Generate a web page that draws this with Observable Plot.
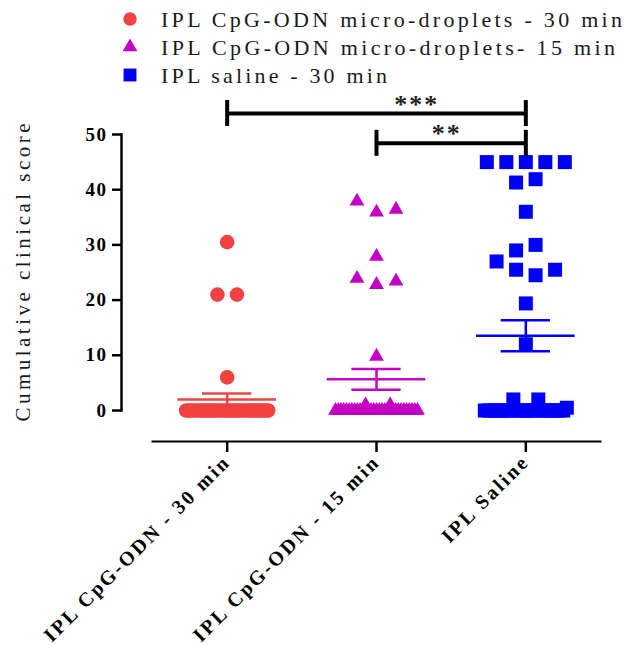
<!DOCTYPE html>
<html>
<head>
<meta charset="utf-8">
<script src="https://cdn.jsdelivr.net/npm/d3@7"></script>
<script src="https://cdn.jsdelivr.net/npm/@observablehq/plot@0.6"></script>
<style>
  body { margin: 0; background: #fff; }
  #chart { width: 632px; height: 645px; overflow: hidden; font-family: "Liberation Serif", serif; }
  #chart svg { display: block; }
</style>
</head>
<body>
<div id="chart"></div>
<script>
// ---------------- data ----------------
const categories = ["IPL CpG-ODN - 30 min", "IPL CpG-ODN - 15 min", "IPL Saline"];
const seriesNames = [
  "IPL CpG-ODN micro-droplets - 30 min",
  "IPL CpG-ODN micro-droplets- 15 min",
  "IPL saline - 30 min"
];
const yTicks = [0, 10, 20, 30, 40, 50];
const yTitle = "Cumulative clinical score";

const cpg30Values = [
  30.5, 21, 21, 6,
  0, 0, 0, 0, 0, 0, 0, 0, 0, 0, 0, 0, 0, 0, 0, 0, 0, 0,
  0, 0, 0, 0, 0, 0, 0, 0, 0, 0, 0, 0, 0, 0, 0, 0, 0
];
const cpg15Values = [
  37.9, 35.9, 36.4, 27.9, 23.9, 22.8, 23.4, 9.8,
  0, 0, 0, 0, 0, 0, 0, 0, 0, 0, 0, 1, 0, 0, 0, 0, 0, 0, 0, 0, 1,
  0, 0, 0, 0, 0, 0, 0, 0, 0, 0
];
const salineValues = [
  45, 45, 45, 45, 45, 41.3, 41.9, 36, 29, 30, 27, 25.5, 24.5, 25.5, 19.4, 12,
  0, 0, 0, 0, 0, 0, 0, 0, 2, 0, 0, 0, 0, 0, 0, 2, 0, 0, 0, 0, 0, 0, 0, 0.5
];
// significance brackets: group indices, label, bracket level (score units), label position (group units)
const comparisons = [
  {from: 0, to: 2, label: "***", level: 53.8, labelAt: 1.27},
  {from: 1, to: 2, label: "**", level: 48.4, labelAt: 1.47}
];

// ---------------- styles / layout ----------------
const seriesColors = ["#f24141", "#c300c3", "#0000f5"];
const plotSymbols = ["circle", "triangle", "square"];
const d3Symbols = [d3.symbolCircle, d3.symbolTriangle, d3.symbolSquare];
const markerR = [7.3, 5.5, 7.9];
const legendTextWidths = [461, 454, 226];
const step = 0.1306;      // spacing between neighbouring points in a row (group units)
const maxHalf = 0.2746;   // half width of a crowded row (group units)
const rowTol = 2.7;       // values closer than this share a row
const meanHalf = 0.33, capHalf = 0.165, bracketTick = 2.35;

const groups = [cpg30Values, cpg15Values, salineValues];

// column-scatter layout (deterministic)
const points = [];
groups.forEach((vals, g) => {
  const items = vals.map((v, i) => ({v, i}));
  const sorted = items.slice().sort((a, b) => b.v - a.v || a.i - b.i);
  const rows = [];
  for (const p of sorted) {
    const row = rows[rows.length - 1];
    if (row && row[0].v - p.v < rowTol) row.push(p); else rows.push([p]);
  }
  for (const row of rows) {
    row.sort((a, b) => a.i - b.i);
    const n = row.length;
    const fits = (n - 1) * step <= 2 * maxHalf;
    row.forEach((p, k) => {
      const off = n === 1 ? 0 : fits ? (k - (n - 1) / 2) * step : -maxHalf + k * (2 * maxHalf / (n - 1));
      points.push({group: g, value: p.v, x: g + off});
    });
  }
});

const stats = groups.map((vals, g) => {
  const m = d3.mean(vals);
  const s = d3.deviation(vals) / Math.sqrt(vals.length);
  return {group: g, mean: m, lo: m - s, hi: m + s, color: seriesColors[g]};
});
const bracketEnds = comparisons.flatMap(c => [
  {x: c.from, y1: c.level - bracketTick, y2: c.level + bracketTick},
  {x: c.to, y1: c.level - bracketTick, y2: c.level + bracketTick}
]);

// ---------------- legend ----------------
const chart = d3.select("#chart");
const legend = chart.append("svg").attr("width", 632).attr("height", 88);
seriesNames.forEach((name, k) => {
  const cy = 19 + k * 28;
  legend.append("path")
    .attr("transform", `translate(130,${cy})`)
    .attr("d", d3.symbol(d3Symbols[k], Math.PI * markerR[k] * markerR[k] * (k === 1 ? 1.0 : 0.85))())
    .attr("fill", seriesColors[k]);
  legend.append("text")
    .attr("x", 161).attr("y", cy).attr("dy", "0.35em")
    .attr("textLength", legendTextWidths[k]).attr("lengthAdjust", "spacing")
    .attr("font-family", "Liberation Serif").attr("font-size", 22)
    .attr("fill", "#1a1a1a")
    .text(name);
});

// ---------------- plot ----------------
const plot = Plot.plot({
  width: 632,
  height: 557,
  marginLeft: 121,
  marginRight: 32,
  marginTop: 46,
  marginBottom: 235,
  style: {fontFamily: "Liberation Serif", color: "#000", background: "#fff"},
  x: {domain: [-0.5, 2.5], range: [152, 600]},
  y: {domain: [0, 50], range: [322, 46]},
  color: {type: "identity"},
  marks: [
    Plot.frame({anchor: "left", strokeWidth: 2.5}),
    Plot.frame({anchor: "bottom", dy: 31, insetLeft: 31, strokeWidth: 2}),
    Plot.axisY({ticks: yTicks, tickSize: 9, tickPadding: 5, fontSize: 19, fontWeight: "bold", strokeWidth: 2.5, label: null}),
    Plot.axisX({ticks: [0, 1, 2], tickFormat: i => categories[i], tickSize: 11, dy: 31, tickRotate: -45,
      tickPadding: 6, fontSize: 20, fontWeight: "bold", strokeWidth: 2.5, label: null}),
    Plot.text([yTitle], {frameAnchor: "left", textAnchor: "middle", rotate: -90, dx: -98, fontSize: 21, text: d => d, fill: "#1a1a1a"}),
    ...groups.map((_, g) => Plot.dot(points.filter(d => d.group === g), {
      x: "x", y: "value", symbol: plotSymbols[g], r: markerR[g], fill: seriesColors[g]
    })),
    Plot.ruleY(stats, {y: "mean", x1: d => d.group - meanHalf, x2: d => d.group + meanHalf, stroke: "color", strokeWidth: 2.5}),
    Plot.ruleY(stats, {y: "hi", x1: d => d.group - capHalf, x2: d => d.group + capHalf, stroke: "color", strokeWidth: 2.5}),
    Plot.ruleY(stats, {y: "lo", x1: d => d.group - capHalf, x2: d => d.group + capHalf, stroke: "color", strokeWidth: 2.5}),
    Plot.ruleX(stats, {x: "group", y1: "lo", y2: "hi", stroke: "color", strokeWidth: 2.5}),
    Plot.ruleY(comparisons, {y: "level", x1: "from", x2: "to", strokeWidth: 4}),
    Plot.ruleX(bracketEnds, {x: "x", y1: "y1", y2: "y2", strokeWidth: 4}),
    Plot.text(comparisons, {x: "labelAt", y: "level", text: "label", lineAnchor: "bottom", dy: -1, fontSize: 26, fontWeight: "bold", fill: "#222"})
  ]
});
chart.node().appendChild(plot);

// text spacing tweaks (GraphPad-style wide tracking)
const svg = d3.select(plot);
svg.selectAll('g[aria-label="y-axis tick label"] text').style("letter-spacing", "1.5px");
svg.selectAll('g[aria-label="x-axis tick label"] text').style("letter-spacing", "2.5px");
svg.selectAll('g[aria-label="text"] text').filter(function() { return this.textContent === yTitle; })
  .attr("textLength", 298).attr("lengthAdjust", "spacing");
svg.selectAll('g[aria-label="text"] text').filter(function() { return this.textContent.startsWith("*"); })
  .style("letter-spacing", "2px");
</script>
</body>
</html>
